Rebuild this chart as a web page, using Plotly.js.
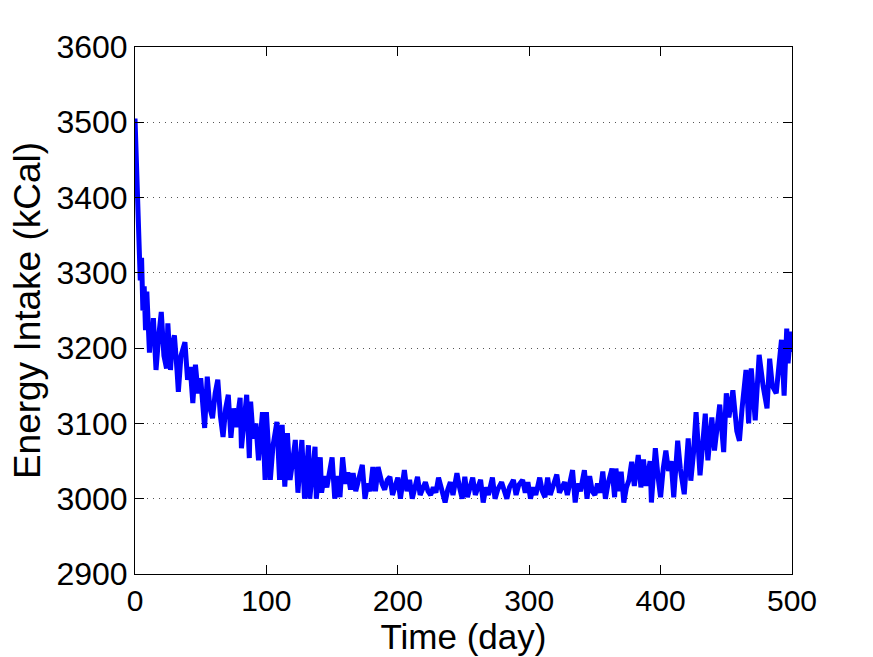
<!DOCTYPE html>
<html>
<head>
<meta charset="utf-8">
<script src="https://cdn.plot.ly/plotly-3.0.1.min.js"></script>
<style>html,body{margin:0;padding:0;background:#fff;}#chart{width:873px;height:657px;}</style>
</head>
<body>
<div id="chart"></div>
<script>
// Time (day)
var days = [0,1,2,3,4,5,6,7,8,9,11,12,13,14,16,18,20,22,24,25,27,28,30,32,33,35,38,40,42,44,46,48,50,53,55,57,59,61,63,65,67,69,71,73,75,77,80,81,83,85,87,88,90,92,94,97,99,
100,103,105,108,110,112,114,116,118,120,122,124,127,129,132,133,135,137,138,141,142,144,146,148,150,152,154,156,158,160,162,164,166,168,170,173,175,177,179,181,183,185,188,190,192,194,196,198,
200,202,205,207,209,211,213,215,217,219,221,223,225,227,229,231,234,236,238,240,242,245,247,249,251,253,255,257,259,261,263,265,267,269,272,274,276,279,281,283,285,288,290,292,295,297,299,
301,303,305,308,310,312,314,316,318,321,323,325,327,329,331,333,335,337,339,342,344,346,348,350,352,354,356,358,360,363,365,366,368,370,372,374,376,378,380,383,385,387,389,392,393,396,398,
400,402,404,406,408,410,413,415,418,421,423,425,427,430,432,434,436,439,441,443,445,448,450,452,455,458,460,462,465,467,469,472,475,478,481,483,485,488,490,492,494,496,497,499,500];
// Energy intake (kCal)
var intake = [3505,3450,3380,3330,3290,3320,3250,3282,3224,3275,3194,3230,3205,3240,3171,3215,3248,3190,3173,3233,3171,3200,3217,3170,3142,3190,3208,3158,3175,3127,3178,3140,3160,3094,3162,3120,3107,3140,3158,3110,3082,3120,3138,3081,3120,3095,3134,3067,3100,3138,3054,3129,3080,3100,3051,3115,3025,
3115,3025,3070,3102,3025,3098,3016,3087,3025,3050,3078,3008,3078,3000,3071,3000,3040,3069,3000,3055,3008,3030,3015,3040,3055,3000,3030,3002,3055,3020,3035,3012,3034,3010,3025,3045,3000,3020,3010,3042,3010,3042,3020,3012,3025,3029,3005,3015,
3028,3000,3038,3010,3025,3000,3018,3029,3005,3015,3022,3010,3005,3015,3008,3028,3010,2995,3012,3022,3005,3034,3015,3000,3029,3002,3015,3028,3005,3018,3025,2995,3015,3005,3028,3000,3012,3022,3010,3000,3015,3025,3005,3018,3025,3008,3022,
3000,3015,3005,3028,3010,3002,3028,3005,3015,3032,3008,3015,3022,3005,3025,3038,2995,3020,3010,3038,3000,3030,3010,3005,3020,3008,3036,3000,3020,3040,3002,3040,3010,3036,2995,3015,3025,3049,3017,3058,3015,3052,3017,3050,2995,3067,3030,
3002,3040,3064,3037,3050,3002,3077,3040,3006,3080,3024,3060,3115,3031,3070,3113,3051,3108,3064,3095,3125,3062,3140,3108,3144,3090,3077,3120,3171,3100,3173,3104,3191,3150,3120,3186,3150,3140,3180,3211,3137,3226,3180,3222,3195];
var xTicks = [0,100,200,300,400,500];
var yTicks = [2900,3000,3100,3200,3300,3400,3500,3600];

var trace = {
  x: days, y: intake, type: 'scatter', mode: 'lines',
  line: {color: '#0000ff', width: 5},
  hoverinfo: 'skip'
};
var fam = '"Liberation Sans", Arial, Helvetica, sans-serif';
var layout = {
  width: 873, height: 657,
  margin: {l: 135, r: 81, t: 47, b: 83},
  paper_bgcolor: '#fff', plot_bgcolor: '#fff',
  showlegend: false,
  font: {family: fam, color: '#000'},
  xaxis: {
    range: [0, 500], tickmode: 'array', tickvals: xTicks, ticktext: xTicks.map(String),
    showgrid: false, zeroline: false,
    showline: true, linecolor: '#000', linewidth: 1, mirror: 'ticks',
    ticks: 'inside', ticklen: 9, tickcolor: '#000', tickwidth: 1,
    tickfont: {size: 30, family: fam, color: '#000'},
    title: {text: 'Time (day)', font: {size: 35, family: fam, color: '#000'}, standoff: 6},
    automargin: false
  },
  yaxis: {
    range: [2900, 3600], tickmode: 'array', tickvals: yTicks, ticktext: yTicks.map(String),
    showgrid: true, gridcolor: '#555', gridwidth: 1, griddash: '1px,5px',
    zeroline: false,
    showline: true, linecolor: '#000', linewidth: 1, mirror: 'ticks',
    ticks: 'inside', ticklen: 9, tickcolor: '#000', tickwidth: 1,
    tickfont: {size: 32, family: fam, color: '#000'},
    title: {text: 'Energy Intake (kCal)', font: {size: 37, family: fam, color: '#000'}, standoff: 4},
    automargin: false
  }
};
Plotly.newPlot('chart', [trace], layout, {staticPlot: true, displayModeBar: false});
</script>
</body>
</html>
